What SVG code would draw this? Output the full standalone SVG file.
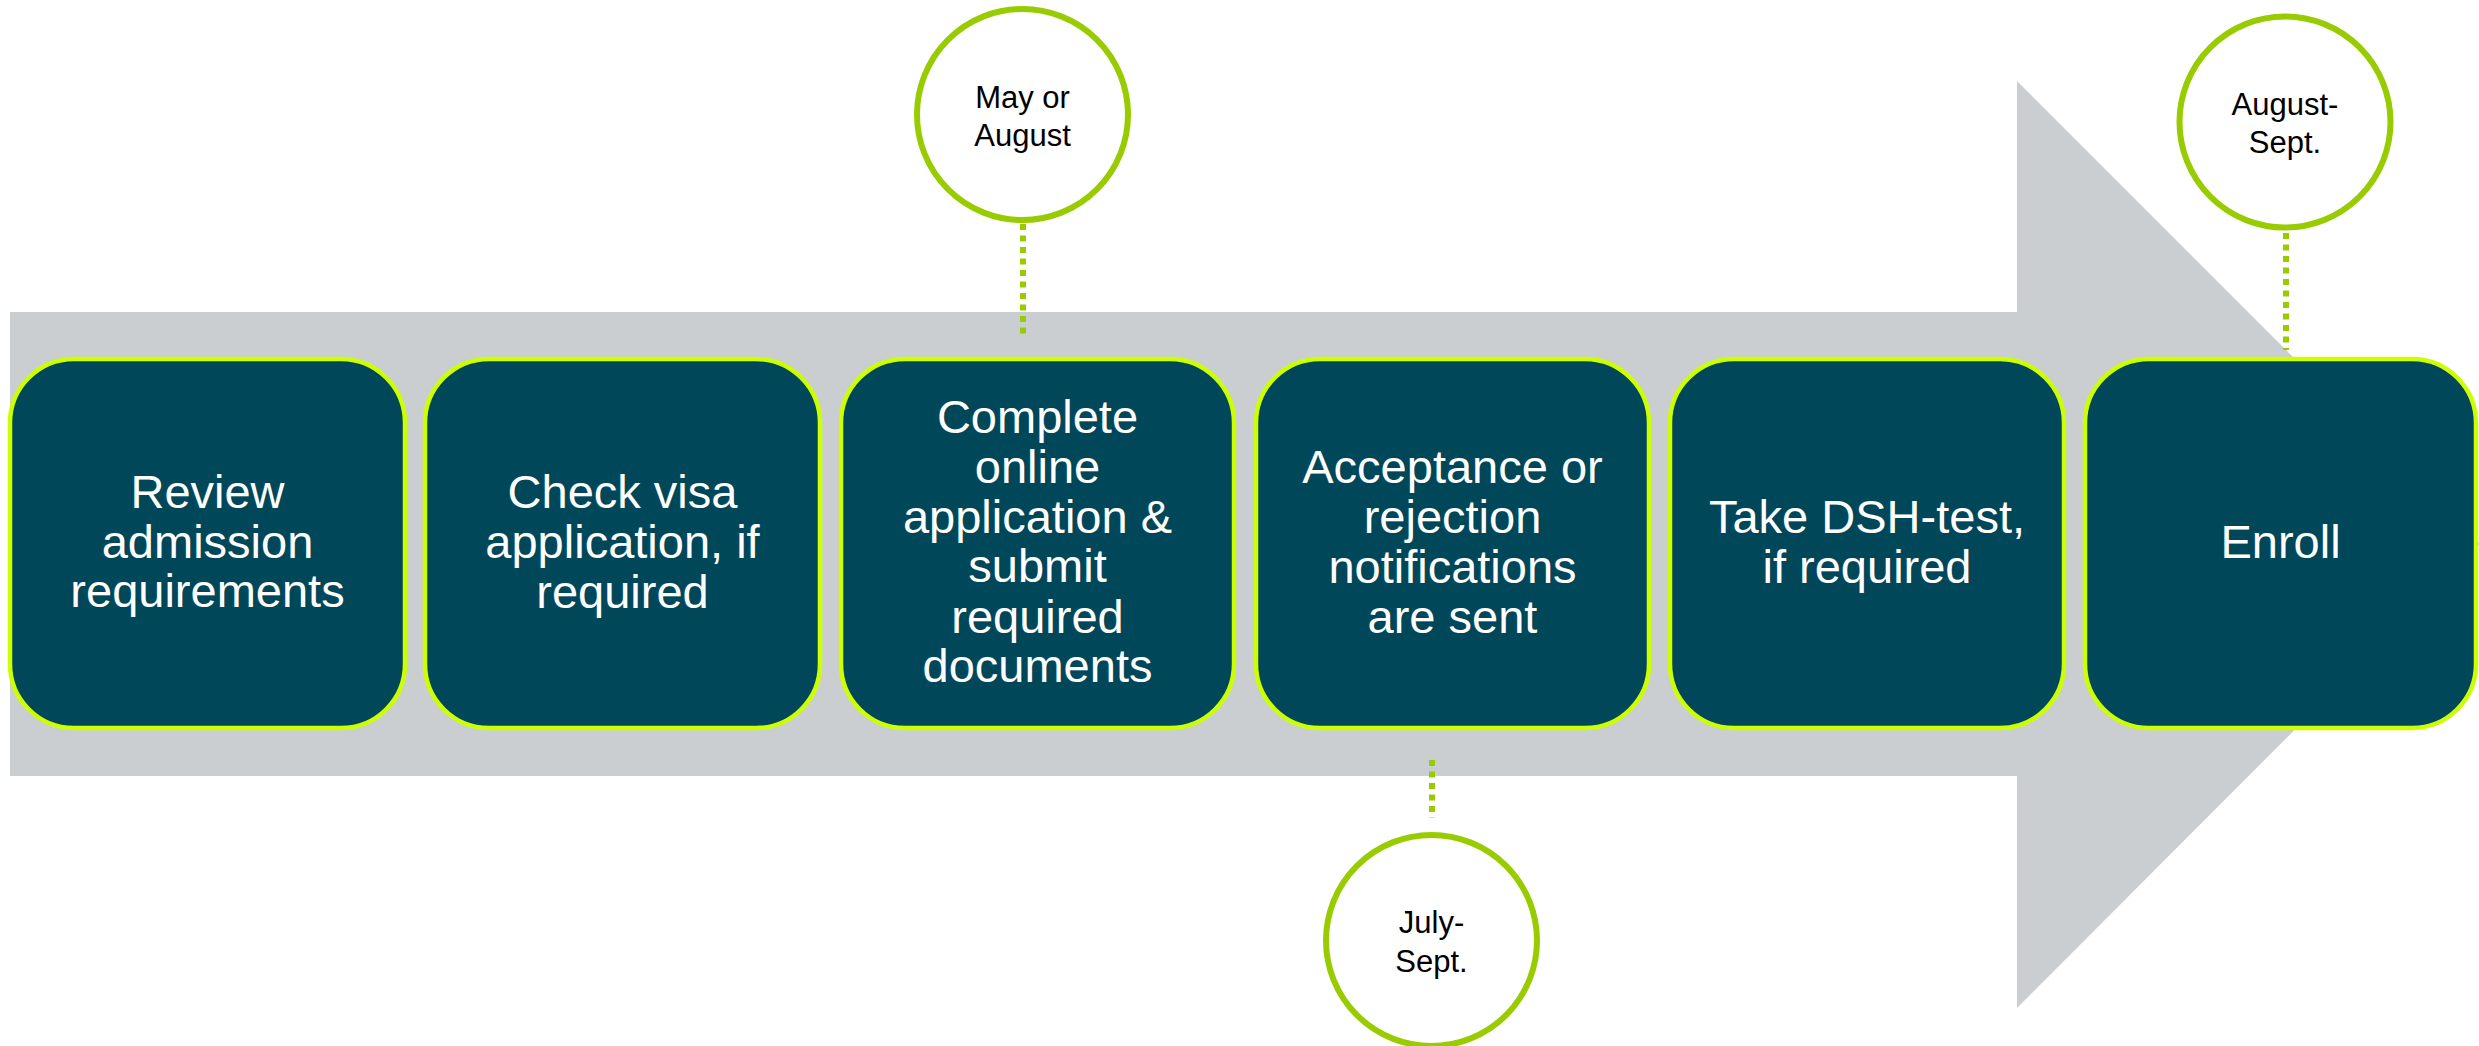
<svg xmlns="http://www.w3.org/2000/svg" width="2479" height="1046" viewBox="0 0 2479 1046">
<style>
.box{fill:#01475A;stroke:#CCFF00;stroke-width:4.5}
.bt{font-family:"Liberation Sans",Arial,sans-serif;font-size:47px;fill:#FFFFFF;text-anchor:middle}
.circ{fill:#FFFFFF;stroke:#99CC00;stroke-width:6}
.ct{font-family:"Liberation Sans",Arial,sans-serif;font-size:31px;fill:#000000;text-anchor:middle}
.dash{stroke:#99CC00;stroke-width:6;stroke-dasharray:6 5.5;fill:none}
</style>
<rect width="2479" height="1046" fill="#FFFFFF"/>
<path id="arrow" d="M10,312 H2017 V81 L2480,544 L2017,1008 V776 H10 Z" fill="#CBCED1"/>
<g id="connectors">
<line class="dash" x1="1023" y1="224" x2="1023" y2="338"/>
<line class="dash" x1="1432" y1="760" x2="1432" y2="818"/>
<line class="dash" x1="2286" y1="233" x2="2286" y2="350"/>
</g>
<g id="step1"><rect class="box" x="10" y="359" width="395" height="369" rx="64"/>
<text class="bt" x="207.5"><tspan x="207.5" y="508">Review</tspan><tspan x="207.5" y="558">admission</tspan><tspan x="207.5" y="607">requirements</tspan></text></g>
<g id="step2"><rect class="box" x="425" y="359" width="395" height="369" rx="64"/>
<text class="bt"><tspan x="622.5" y="508">Check visa</tspan><tspan x="622.5" y="558">application, if</tspan><tspan x="622.5" y="608">required</tspan></text></g>
<g id="step3"><rect class="box" x="841" y="359" width="393" height="369" rx="64"/>
<text class="bt"><tspan x="1037.5" y="433">Complete</tspan><tspan x="1037.5" y="483">online</tspan><tspan x="1037.5" y="533">application &amp;</tspan><tspan x="1037.5" y="582">submit</tspan><tspan x="1037.5" y="633">required</tspan><tspan x="1037.5" y="682">documents</tspan></text></g>
<g id="step4"><rect class="box" x="1256" y="359" width="393" height="369" rx="64"/>
<text class="bt"><tspan x="1452.5" y="483">Acceptance or</tspan><tspan x="1452.5" y="533">rejection</tspan><tspan x="1452.5" y="583">notifications</tspan><tspan x="1452.5" y="633">are sent</tspan></text></g>
<g id="step5"><rect class="box" x="1670" y="359" width="394" height="369" rx="64"/>
<text class="bt"><tspan x="1867" y="533">Take DSH-test,</tspan><tspan x="1867" y="583">if required</tspan></text></g>
<g id="step6"><rect class="box" x="2085" y="359" width="391" height="369" rx="64"/>
<text class="bt"><tspan x="2280.5" y="558">Enroll</tspan></text></g>
<g id="date1"><circle class="circ" cx="1022.5" cy="114.5" r="105.5"/>
<text class="ct"><tspan x="1022.5" y="108">May or</tspan><tspan x="1022.5" y="146">August</tspan></text></g>
<g id="date2"><circle class="circ" cx="1431.5" cy="940.5" r="105.5"/>
<text class="ct"><tspan x="1431.5" y="933">July-</tspan><tspan x="1431.5" y="972">Sept.</tspan></text></g>
<g id="date3"><circle class="circ" cx="2285" cy="122" r="105.5"/>
<text class="ct"><tspan x="2285" y="115">August-</tspan><tspan x="2285" y="153">Sept.</tspan></text></g>
</svg>
